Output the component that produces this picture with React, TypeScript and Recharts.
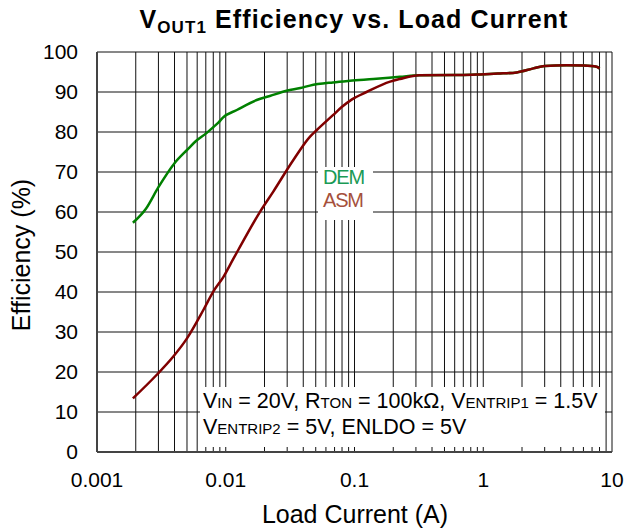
import React from "react";
import {
  LineChart,
  Line,
  XAxis,
  YAxis,
  CartesianGrid,
} from "recharts";

// load current (A) and efficiency (%)
const demCurrent = [
  0.0019, 0.0024, 0.003, 0.004, 0.005, 0.006, 0.007, 0.008, 0.0088, 0.0095,
  0.0122, 0.0174, 0.022, 0.0297, 0.038, 0.045, 0.068, 0.092, 0.14, 0.225,
  0.32, 0.66, 0.94, 1.3, 1.82, 2.45, 3.0, 4.45, 6.0, 7.6, 8.0,
];
const demEff = [
  57.3, 60.8, 66.2, 72.2, 75.5, 78, 79.6, 81.2, 82.4, 83.6, 85.5, 88, 89,
  90.3, 91, 91.6, 92.4, 92.8, 93.25, 93.8, 94.2, 94.25, 94.4, 94.6, 94.9, 95.9,
  96.5, 96.7, 96.6, 96.3, 95.9,
];
const asmCurrent = [
  0.0019, 0.0029, 0.0039, 0.005, 0.0067, 0.008, 0.0096, 0.0115, 0.0125,
  0.0185, 0.0234, 0.0335, 0.045, 0.051, 0.068, 0.08, 0.095, 0.124, 0.189,
  0.225, 0.32, 0.66, 0.94, 1.3, 1.82, 2.45, 3.0, 4.45, 6.0, 7.6, 8.0,
];
const asmEff = [
  13.4, 19.25, 23.8, 28.4, 35.5, 40.1, 43.8, 48.4, 50.5, 60.1, 65.1, 73,
  78.8, 80.5, 84.2, 86.3, 88.1, 90, 92.6, 93.25, 94.2, 94.25, 94.4, 94.6,
  94.9, 95.9, 96.5, 96.7, 96.6, 96.3, 95.9,
];

const decades = [0.001, 0.01, 0.1, 1, 10];
const decadeLabels = ["0.001", "0.01", "0.1", "1", "10"];
const minorSteps = [1, 2, 3, 4, 5, 6, 7, 8, 9];
const yTicks = [0, 10, 20, 30, 40, 50, 60, 70, 80, 90, 100];

const xTicks: number[] = [];
decades.slice(0, -1).forEach((d) =>
  minorSteps.forEach((m) => xTicks.push(+(d * m).toPrecision(3)))
);
xTicks.push(10);

const demData = demCurrent.map((x, i) => ({ x, y: demEff[i] }));
const asmData = asmCurrent.map((x, i) => ({ x, y: asmEff[i] }));

const FONT = '"Liberation Sans", Arial, sans-serif';

const fmtX = (v: number) => {
  const i = decades.findIndex((d) => Math.abs(d - v) < d * 1e-6);
  return i >= 0 ? decadeLabels[i] : "";
};

export default function App() {
  return (
    <div
      style={{
        position: "absolute",
        left: 0,
        top: 0,
        width: 624,
        height: 529,
        background: "#fff",
        fontFamily: FONT,
      }}
    >
      <LineChart
        width={624}
        height={529}
        margin={{ top: 52, right: 12, bottom: 47, left: 0 }}
      >
        <CartesianGrid stroke="#111" strokeWidth={1} />
        <XAxis
          type="number"
          dataKey="x"
          scale="log"
          domain={[0.001, 10]}
          allowDataOverflow
          ticks={xTicks}
          interval={0}
          tickFormatter={fmtX}
          tickLine={false}
          tickSize={18}
          tickMargin={2}
          height={30}
          axisLine={{ stroke: "#444", strokeWidth: 2 }}
          tick={{ fill: "#000", fontSize: 21, fontFamily: FONT }}
        />
        <YAxis
          type="number"
          domain={[0, 100]}
          ticks={yTicks}
          interval={0}
          width={97}
          tickLine={false}
          tickSize={17}
          tickMargin={2}
          axisLine={{ stroke: "#444", strokeWidth: 2 }}
          tick={{ fill: "#000", fontSize: 21, fontFamily: FONT }}
        />
        <Line
          data={demData}
          dataKey="y"
          type="monotone"
          stroke="#008000"
          strokeWidth={2.5}
          dot={false}
          isAnimationActive={false}
        />
        <Line
          data={asmData}
          dataKey="y"
          type="monotone"
          stroke="#800000"
          strokeWidth={2.5}
          dot={false}
          isAnimationActive={false}
        />
      </LineChart>

      {/* title, axis names, legend and condition box */}
      <svg
        width={624}
        height={529}
        style={{ position: "absolute", left: 0, top: 0, pointerEvents: "none" }}
        fontFamily={FONT}
      >
        <text
          x={354}
          y={28}
          fontSize={25}
          fontWeight="bold"
          letterSpacing={1.1}
          textAnchor="middle"
          fill="#000"
        >
          V<tspan fontSize={17} dy={5}>OUT1</tspan>
          <tspan dy={-5}> Efficiency vs. Load Current</tspan>
        </text>
        <text x={355} y={523} fontSize={25} textAnchor="middle" fill="#000">
          Load Current (A)
        </text>
        <text
          transform="translate(30,255) rotate(-90)"
          fontSize={25}
          textAnchor="middle"
          fill="#000"
        >
          Efficiency (%)
        </text>

        <rect x={318} y={167} width={55} height={53} fill="#fff" />
        <text x={323} y={184} fontSize={20} letterSpacing={-1.2} fill="#1a9a55">
          DEM
        </text>
        <text x={323} y={207} fontSize={20} letterSpacing={-1.2} fill="#a5503c">
          ASM
        </text>

        <rect x={200} y={387} width={405} height={60} fill="#fff" />
        <text x={203} y={408} fontSize={21.5} fill="#000">
          V<tspan fontSize={15}>IN</tspan>
          <tspan> = 20V, R</tspan>
          <tspan fontSize={15}>TON</tspan>
          <tspan> = 100kΩ, V</tspan>
          <tspan fontSize={15}>ENTRIP1</tspan>
          <tspan> = 1.5V</tspan>
        </text>
        <text x={203} y={434} fontSize={21.5} fill="#000">
          V<tspan fontSize={15}>ENTRIP2</tspan>
          <tspan> = 5V, ENLDO = 5V</tspan>
        </text>
      </svg>
    </div>
  );
}
